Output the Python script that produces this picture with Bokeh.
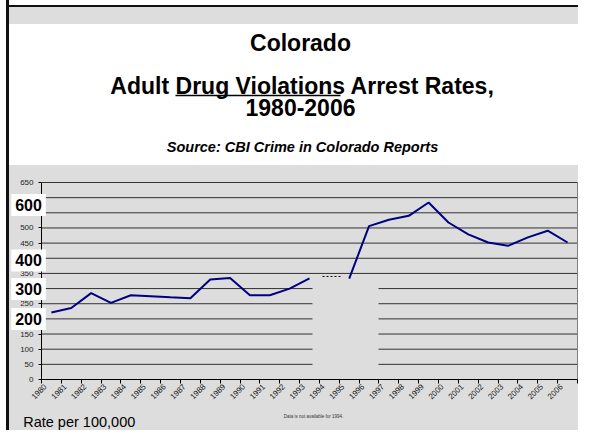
import numpy as np
from bokeh.plotting import figure
from bokeh.models import Range1d, FixedTicker, Label
from bokeh.embed import file_html
from bokeh.resources import INLINE

# ---------------- data ----------------
years = [str(y) for y in range(1980, 2007)]
rates = [221, 236, 285, 253, 278, 275, 271, 268, 330, 335, 278, 278, 300, 334,
         np.nan, 333, 506, 527, 540, 584, 518, 479, 452, 441, 469, 491, 452]
y_ticks = list(range(0, 651, 50))
big_labels = ["600", "400", "300", "200"]
big_label_y = [576, 393, 299, 200]
title_1 = "Colorado"
title_2 = "Adult Drug Violations Arrest Rates,"
title_3 = "1980-2006"
source_text = "Source: CBI Crime in Colorado Reports"
missing_note = "Data is not available for 1994."
missing_level = 340
y_caption = "Rate per 100,000"

# ---------------- layout (canvas pixels) ----------------
W, H = 578, 430
CL, CR, CT, CB = 41, 577, 182, 379      # chart area inside the canvas
UNIT = 10
N = len(years)
Y_MAX = 650
FONT = "Liberation Sans"
GRAY = "#DDDDDD"

kx = (CR - CL) / (N * UNIT)
ky = (CB - CT) / Y_MAX


def x_at(cx):
    return (cx - CL) / kx


def y_at(cy):
    return (CB - cy) / ky


p = figure(width=W, height=H, output_backend="svg", toolbar_location=None,
           x_range=Range1d(x_at(0), x_at(W)), y_range=Range1d(y_at(H), y_at(0)),
           min_border_left=0, min_border_right=0, min_border_top=0, min_border_bottom=0,
           background_fill_color=None, border_fill_color=None, outline_line_color=None)

p.styles = {
    "background": "linear-gradient(to right, #FFFFFF 0px, #FFFFFF 6px, #111 6px, #111 9px, "
                  "transparent 9px), "
                  "linear-gradient(to bottom, #FFFFFF 0px, #FFFFFF 5px, #111 5px, #111 7px, "
                  "#DDDDDD 7px, #DDDDDD 24px, #FFFFFF 24px, #FFFFFF 165px, #DDDDDD 165px)"
}

# ---------------- axes ----------------
label_ticks = [i * UNIT + 2 for i in range(N)]
p.xaxis.fixed_location = 0
p.xaxis.bounds = (0, N * UNIT)
p.xaxis.ticker = FixedTicker(ticks=label_ticks, minor_ticks=[i * UNIT for i in range(N + 1)])
p.xaxis.major_label_overrides = {t: y for t, y in zip(label_ticks, years)}
p.xaxis.major_label_orientation = np.pi / 4
p.xaxis.major_tick_line_color = None
p.xaxis.major_tick_out = 4
p.xaxis.major_label_standoff = 2
p.xaxis.minor_tick_line_color = "#000000"
p.xaxis.minor_tick_out = 4
p.xaxis.minor_tick_in = 0
p.xaxis.axis_line_color = "#000000"
p.xaxis.major_label_text_font = FONT
p.xaxis.major_label_text_font_size = "8px"
p.xaxis.major_label_text_color = "#222222"

p.yaxis.fixed_location = 0
p.yaxis.bounds = (0, Y_MAX)
p.yaxis.ticker = FixedTicker(ticks=y_ticks)
p.yaxis.major_tick_out = 3
p.yaxis.major_tick_in = 0
p.yaxis.minor_tick_line_color = None
p.yaxis.major_label_standoff = 5
p.yaxis.axis_line_color = "#000000"
p.yaxis.major_tick_line_color = "#000000"
p.yaxis.major_label_text_font = FONT
p.yaxis.major_label_text_font_size = "8px"
p.yaxis.major_label_text_color = "#222222"

p.xgrid.visible = False
p.ygrid.visible = False

# horizontal grid lines and right border of the plot area
grid_vals = [v for v in y_ticks if v > 0]
p.segment(x0=[0] * len(grid_vals), x1=[N * UNIT] * len(grid_vals),
          y0=grid_vals, y1=grid_vals, line_color="#333333", line_width=1)
p.segment(x0=[N * UNIT], x1=[N * UNIT], y0=[0], y1=[Y_MAX], line_color="#808080", line_width=1)

# cover box over the missing year, then the data line and the dashed marker
p.quad(left=x_at(312), right=x_at(378), bottom=5, top=322,
       fill_color=GRAY, line_color=None)
xs = [(i + 0.5) * UNIT for i in range(N)]
p.line(xs, np.array(rates, dtype=float), line_color="#000080", line_width=2)
p.line([x_at(322), x_at(342)], [missing_level, missing_level],
       line_color="#000000", line_width=1, line_dash="2 2")


# ---------------- texts ----------------
def add_text(text, cx, cy, size, style="normal", align="center", baseline="middle",
             color="#000000", **kw):
    p.add_layout(Label(x=x_at(cx), y=y_at(cy), text=text, text_align=align,
                       text_baseline=baseline, text_font=FONT, text_font_style=style,
                       text_font_size=size, text_color=color, **kw))


add_text(title_1, 300, 42, "23px", "bold")
add_text(title_2, 302, 85, "23px", "bold")
add_text(title_3, 300, 107, "23px", "bold")
add_text(source_text, 302, 146, "14.5px", "bold italic")
# underline below "Drug Violations"
p.line([x_at(175), x_at(340)], [y_at(95), y_at(95)], line_color="#000000", line_width=1.7)

# big white value boxes on the y axis
for txt, yv in zip(big_labels, big_label_y):
    p.add_layout(Label(x=x_at(28), y=yv, text=txt, text_align="center",
                       text_baseline="middle", text_font=FONT, text_font_style="bold",
                       text_font_size="16px", text_color="#000000",
                       background_fill_color="#FFFFFF", padding=(4, 5)))

add_text(missing_note, 313, 416, "4.5px", color="#333333")
add_text(y_caption, 22.7, 421, "14.5px", align="left")

open("out.html", "w").write(file_html(p, INLINE))
